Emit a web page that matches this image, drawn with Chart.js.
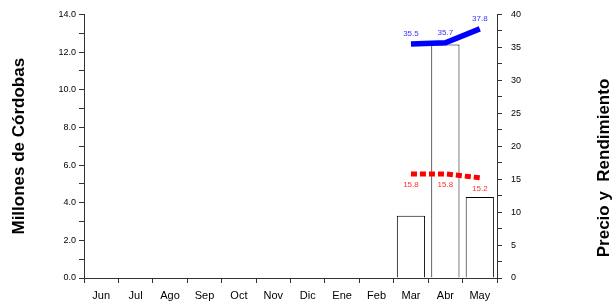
<!DOCTYPE html>
<html>
<head>
<meta charset="utf-8">
<script src="https://cdn.jsdelivr.net/npm/chart.js@4"></script>
<style>
  html, body { margin: 0; padding: 0; background: #fff; }
  #wrap { width: 616px; height: 308px; }
</style>
</head>
<body>
<div id="wrap"><canvas id="c" width="616" height="308"></canvas></div>
<script>
const months = ['Jun', 'Jul', 'Ago', 'Sep', 'Oct', 'Nov', 'Dic', 'Ene', 'Feb', 'Mar', 'Abr', 'May'];
const millones = [null, null, null, null, null, null, null, null, null, 3.3, 12.4, 4.3];
const precio = [null, null, null, null, null, null, null, null, null, 35.5, 35.7, 37.8];
const rendimiento = [null, null, null, null, null, null, null, null, null, 15.8, 15.8, 15.2];
const leftTitle = 'Millones de Córdobas';
const rightTitle = 'Precio y  Rendimiento';

const FONT = 'Arial, "Liberation Sans", sans-serif';

// value labels for the line series + rotated axis titles
const extras = {
  id: 'extras',
  afterDatasetsDraw(ch) {
    const ctx = ch.ctx, x = ch.scales.x, y2 = ch.scales.y2;
    ctx.save();
    ctx.font = '8px ' + FONT;
    ctx.textAlign = 'center';
    ctx.textBaseline = 'middle';
    precio.forEach((v, i) => {
      if (v == null) return;
      ctx.fillStyle = '#3333ff';
      ctx.fillText(v.toFixed(1), x.getPixelForValue(i), y2.getPixelForValue(v) - 10);
    });
    rendimiento.forEach((v, i) => {
      if (v == null) return;
      ctx.fillStyle = '#ff3333';
      ctx.fillText(v.toFixed(1), x.getPixelForValue(i), y2.getPixelForValue(v) + 11);
    });
    ctx.fillStyle = '#000';
    ctx.font = 'bold 17px ' + FONT;
    const cy = (ch.chartArea.top + ch.chartArea.bottom) / 2;
    ctx.translate(19, cy);
    ctx.rotate(-Math.PI / 2);
    ctx.fillText(leftTitle, 0, 0);
    ctx.restore();
    ctx.save();
    ctx.fillStyle = '#000';
    ctx.font = 'bold 17px ' + FONT;
    ctx.textAlign = 'center';
    ctx.textBaseline = 'middle';
    ctx.translate(604, 168);
    ctx.rotate(-Math.PI / 2);
    ctx.fillText(rightTitle, 0, 0);
    ctx.restore();
  }
};

new Chart(document.getElementById('c'), {
  type: 'bar',
  data: {
    labels: months,
    datasets: [
      { type: 'line', data: precio, yAxisID: 'y2', borderColor: '#0000ff', borderWidth: 5.5, pointRadius: 0, order: 1 },
      { type: 'line', data: rendimiento, yAxisID: 'y2', borderColor: '#ff0000', borderWidth: 5, borderDash: [6, 3], pointRadius: 0, order: 2 },
      { data: millones, yAxisID: 'y', backgroundColor: '#fff', borderColor: '#000', borderWidth: 1, categoryPercentage: 1, barPercentage: 0.82, order: 3 }
    ]
  },
  options: {
    responsive: false, animation: false,
    layout: { padding: { top: 13, bottom: 0, left: 0, right: 0 } },
    plugins: { legend: { display: false }, tooltip: { enabled: false } },
    scales: {
      x: {
        offset: true,
        grid: { offset: true, drawOnChartArea: false, drawTicks: true, tickLength: 5, color: '#333' },
        border: { color: '#333' },
        ticks: { color: '#000', font: { family: FONT, size: 11 }, padding: 6, maxRotation: 0, autoSkip: false },
        afterFit: s => { s.height = 30; }
      },
      y: {
        position: 'left', min: 0, max: 14,
        grid: { drawOnChartArea: false, tickLength: 5, color: '#333' },
        border: { color: '#333' },
        ticks: { stepSize: 1, color: '#000', font: { family: FONT, size: 9 }, padding: 3,
          callback: v => (v % 2 === 0 ? v.toFixed(1) : '') },
        afterFit: s => { s.width = 84; }
      },
      y2: {
        position: 'right', min: 0, max: 40,
        grid: { drawOnChartArea: false, tickLength: 5, color: '#333' },
        border: { color: '#333' },
        ticks: { stepSize: 2.5, color: '#000', font: { family: FONT, size: 9 }, padding: 9,
          callback: v => (v % 5 === 0 ? String(v) : '') },
        afterFit: s => { s.width = 119; }
      }
    }
  },
  plugins: [extras]
});
</script>
</body>
</html>
